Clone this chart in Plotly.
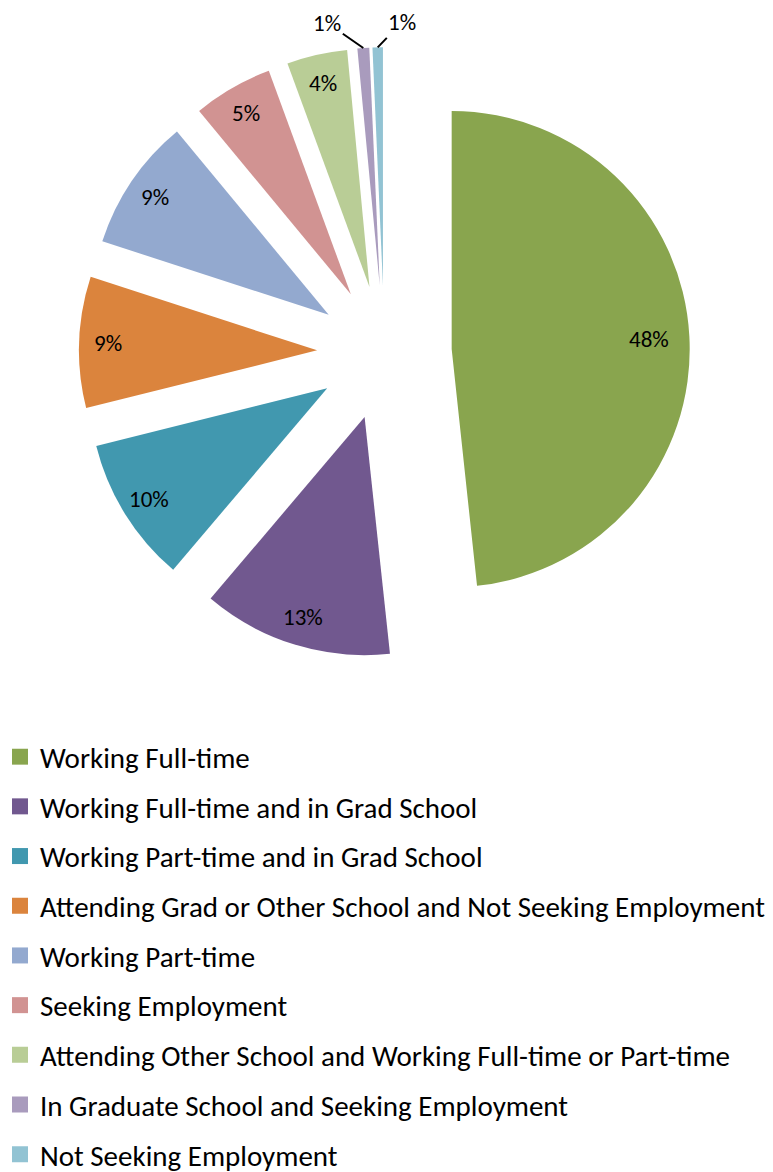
import math
import plotly.graph_objects as go

labels = [
    "Working Full-time",
    "Working Full-time and in Grad School",
    "Working Part-time and in Grad School",
    "Attending Grad or Other School and Not Seeking Employment",
    "Working Part-time",
    "Seeking Employment",
    "Attending Other School and Working Full-time or Part-time",
    "In Graduate School and Seeking Employment",
    "Not Seeking Employment",
]
values = [48.3, 12.9, 9.9, 8.9, 9.0, 5.4, 4.1, 0.8, 0.7]
colors = ["#89A54E", "#71588F", "#4198AF", "#DB843D", "#93A9CF",
          "#D19392", "#B9CD96", "#A99BBD", "#92C3D3"]
# label placement style: ("in", radius fraction) inside the slice,
# or ("out", dx, dy) px offset of an outside label with a leader line
label_style = [("in", 0.83)] + [("in", 0.88)] * 6 + [("out", -36, -25), ("out", 24, -25)]

FONT = "Carlito, Calibri, Lato, sans-serif"
W, H = 765, 1180          # page body adds an 8 px margin
PULL = 0.283
DOM_X = [71.0 / W, 681.8 / W]
DOM_Y = [1 - 650.1 / H, 1 - 39.3 / H]

fig = go.Figure()
fig.add_trace(go.Pie(
    labels=labels,
    values=values,
    sort=False,
    direction="clockwise",
    rotation=0,
    pull=[PULL] * len(values),
    marker=dict(colors=colors, line=dict(width=0)),
    textinfo="none",
    showlegend=False,
    hoverinfo="label+percent",
    domain=dict(x=DOM_X, y=DOM_Y),
))

# percentage labels, placed from the same geometry plotly uses for the pie
cx = W * (DOM_X[0] + DOM_X[1]) / 2
cy = H * (1 - (DOM_Y[0] + DOM_Y[1]) / 2)
r = min(W * (DOM_X[1] - DOM_X[0]), H * (DOM_Y[1] - DOM_Y[0])) / 2 / (1 + PULL)
total = sum(values)
cum = 0.0
for v, style in zip(values, label_style):
    mid = math.radians((cum + v / 2) / total * 360)
    cum += v
    ux, uy = math.sin(mid), -math.cos(mid)
    txt = f"{round(100 * v / total)}%"
    if style[0] == "in":
        d = (PULL + style[1]) * r
        fig.add_annotation(
            x=(cx + d * ux) / W, y=1 - (cy + d * uy) / H,
            xref="paper", yref="paper", xanchor="center", yanchor="middle",
            text=txt, showarrow=False,
            font=dict(family=FONT, size=23, color="black"),
        )
    else:
        d = (PULL + 1.0) * r
        fig.add_annotation(
            x=(cx + d * ux) / W, y=1 - (cy + d * uy) / H,
            xref="paper", yref="paper", text=txt, showarrow=True,
            ax=style[1], ay=style[2], arrowhead=0, arrowwidth=2,
            arrowcolor="black", standoff=0,
            font=dict(family=FONT, size=23, color="black"),
        )

# legend entries (one per category, so the gap between entries can be set)
for lab, col in zip(labels, colors):
    fig.add_trace(go.Scatter(
        x=[None], y=[None], mode="markers", name=lab, legendgroup=lab,
        marker=dict(symbol="square", size=16, color=col),
        showlegend=True, hoverinfo="skip",
    ))

fig.update_layout(
    width=W, height=H,
    margin=dict(l=0, r=0, t=0, b=0, autoexpand=False),
    paper_bgcolor="white",
    plot_bgcolor="white",
    xaxis=dict(visible=False),
    yaxis=dict(visible=False),
    legend=dict(
        x=-8 / W, xanchor="left",
        y=1 - 723.3 / H, yanchor="top",
        font=dict(family=FONT, size=29, color="black"),
        tracegroupgap=9,
        itemclick=False,
        bgcolor="rgba(0,0,0,0)",
    ),
)

fig.write_html("out.html")
